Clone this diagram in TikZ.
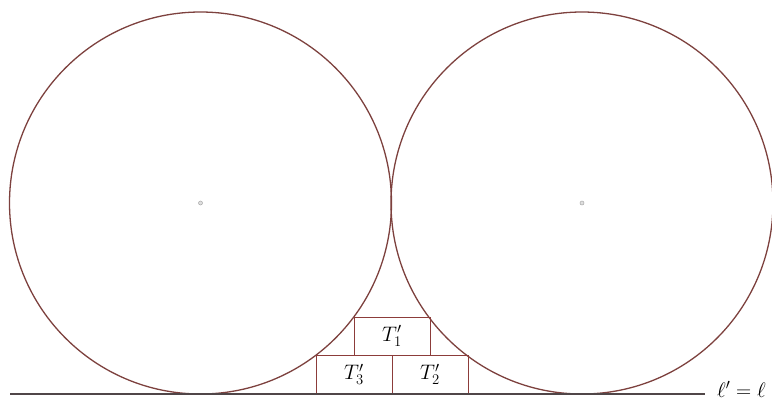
\RequirePackage{fix-cm}
\documentclass[tikz,border=0pt]{standalone}
\begin{document}
\definecolor{circcol}{RGB}{125,65,62}
\definecolor{rectcol}{RGB}{140,60,58}
\definecolor{linecol}{RGB}{80,70,72}
\tikzset{
  bigcirc/.style={circle,draw=circcol,line width=1.3pt,minimum size=382pt,inner sep=0pt},
  cdot/.style={circle,draw=gray!70,fill=gray!25,line width=0.5pt,minimum size=4pt,inner sep=0pt},
  tbox/.style={rectangle,draw=rectcol,line width=1pt,minimum width=76pt,minimum height=38pt,inner sep=0pt,font=\fontsize{21}{24}\selectfont},
  lab/.style={font=\fontsize{21}{24}\selectfont,inner sep=0pt,anchor=base west}
}
\begin{tikzpicture}[x=1pt,y=-1pt]
\useasboundingbox (0,0) rectangle (772,400);
\node[bigcirc] (c1) at (200.5,203) {};
\node[bigcirc] (c2) at (582,203) {};
\node[cdot] (o1) at (200.5,203) {};
\node[cdot] (o2) at (582,203) {};
\node[tbox] (t1) at (392,336) {$T_1'$};
\node[tbox] (t3) at (354,374.5) {$T_3'$};
\node[tbox] (t2) at (430,374.5) {$T_2'$};
\coordinate (l0) at (10,394);
\coordinate (l1) at (705,394);
\node[lab] (ell) at (717,397) {$\ell'=\ell$};
\draw[linecol,line width=1.2pt] (l0) -- (l1);
\end{tikzpicture}
\end{document}
